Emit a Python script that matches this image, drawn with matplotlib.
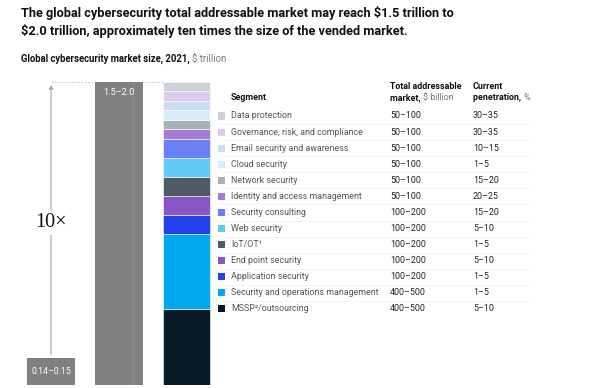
import matplotlib
matplotlib.use("Agg")
import matplotlib.pyplot as plt
from matplotlib.patches import Rectangle

plt.rcParams['font.family'] = ['Roboto', 'Liberation Sans', 'DejaVu Sans']

# ---------------- data ----------------
segments = ["Data protection", "Governance, risk, and compliance", "Email security and awareness",
            "Cloud security", "Network security", "Identity and access management",
            "Security consulting", "Web security", "IoT/OT¹", "End point security",
            "Application security", "Security and operations management", "MSSP²/outsourcing"]
tam_low = [50, 50, 50, 50, 50, 50, 100, 100, 100, 100, 100, 400, 400]
tam_high = [100, 100, 100, 100, 100, 100, 200, 200, 200, 200, 200, 500, 500]
pen_low = [30, 30, 10, 1, 15, 20, 15, 5, 1, 5, 1, 1, 5]
pen_high = [35, 35, 15, 5, 20, 25, 20, 10, 5, 10, 5, 5, 10]
colors = ["#cfd0d3", "#dccbef", "#cbdcf6", "#d8edfb", "#a9b0b6", "#a37cd3",
          "#6b7ff4", "#63c9f6", "#4f5a64", "#8a56c6", "#2142ec", "#00a8f0", "#061a28"]
vended_label = "0.14–0.15"
vended_value = 145          # $ billion
total_label = "1.5–2.0"
total_value = sum(tam_low)  # $ billion

W, H = 602, 388
fig = plt.figure(figsize=(W / 100, H / 100), dpi=100)
renderer = fig.canvas.get_renderer()

def fx(px):
    return px / W

def fy(py):
    return 1 - py / H

def fit(t, target_px):
    w = t.get_window_extent(renderer=renderer).width
    t.set_fontsize(t.get_fontsize() * target_px / w)

# ---------------- titles ----------------
t1 = fig.text(fx(21), fy(17.3), "The global cybersecurity total addressable market may reach $1.5 trillion to",
              fontsize=10.5, fontweight='bold', color='#111111', va='baseline', ha='left')
fit(t1, 436)
t1b = fig.text(fx(21), fy(34.8), "$2.0 trillion, approximately ten times the size of the vended market.",
               fontsize=t1.get_fontsize(), fontweight='bold', color='#111111', va='baseline', ha='left')
t = fig.text(fx(21), fy(59), "Global cybersecurity market size, 2021, ",
             fontsize=7.2, fontweight='bold', color='#111111', va='center', ha='left')
fit(t, 172)
bb = t.get_window_extent(renderer=renderer)
fig.text(bb.x1 / W, fy(59), "$ trillion", fontsize=t.get_fontsize(), color='#777777', va='center', ha='left')

# ---------------- bars ----------------
bar_top_px, bar_bot_px = 82, 385
ax = fig.add_axes([0, fy(bar_bot_px), fx(220), (bar_bot_px - bar_top_px) / H])
ax.set_xlim(0, 220)
ax.set_ylim(0, total_value)
ax.axis('off')

gray = "#808080"
ax.bar(51, vended_value, width=48, color=gray, zorder=2)
ax.text(51, vended_value / 2, vended_label, color='white', fontsize=6.3, ha='center', va='center', zorder=3)

ax.bar(119, total_value, width=48, color=gray, zorder=2)
ax.plot([133, 133], [0, total_value], color='#8c8c8c', lw=0.8, zorder=3)
ax.text(119, total_value * 0.966, total_label, color='white', fontsize=6.6, ha='center', va='center', zorder=3)

bottom = 0
for val, col in zip(tam_low[::-1], colors[::-1]):
    ax.bar(186.5, val, width=47, bottom=bottom, color=col, edgecolor='white', linewidth=0.4, zorder=2)
    bottom += val

# arrow and dashed connector
ax.plot([51, 163], [total_value, total_value], ls=(0, (2, 2)), color='#bbbbbb', lw=0.6, zorder=1)
ax.annotate('', xy=(51, total_value), xytext=(51, vended_value),
            arrowprops=dict(arrowstyle='-|>', color='#aaaaaa', lw=0.8, mutation_scale=6), zorder=1)
ax.text(51, (bar_bot_px - 223) / (bar_bot_px - bar_top_px) * total_value, "10×",
        family=['Liberation Serif', 'DejaVu Serif'], fontsize=14.5, color='#111111', ha='center', va='center',
        bbox=dict(facecolor='white', edgecolor='none', pad=2), zorder=2)

# ---------------- table ----------------
probe = fig.text(0, 0, "Security and operations management", fontsize=7)
fit(probe, 147)
fs = probe.get_fontsize()
probe.remove()

x_sq, x_seg, x_tam, x_pen = 218, 231, 390, 473
fig.text(fx(x_seg), fy(98), "Segment", fontsize=fs, fontweight='bold', color='#111111', va='center')
fig.text(fx(x_tam), fy(86.5), "Total addressable", fontsize=fs, fontweight='bold', color='#111111', va='center')
t2 = fig.text(fx(x_tam), fy(98), "market, ", fontsize=fs, fontweight='bold', color='#111111', va='center')
fig.text(fx(x_pen), fy(86.5), "Current", fontsize=fs, fontweight='bold', color='#111111', va='center')
t3 = fig.text(fx(x_pen), fy(98), "penetration, ", fontsize=fs, fontweight='bold', color='#111111', va='center')
fig.text(t2.get_window_extent(renderer=renderer).x1 / W, fy(98), "$ billion", fontsize=fs, color='#777777', va='center')
fig.text(t3.get_window_extent(renderer=renderer).x1 / W, fy(98), "%", fontsize=fs, color='#777777', va='center')

row0, dy = 116, 16.08
for i, (seg, lo, hi, plo, phi, col) in enumerate(zip(segments, tam_low, tam_high, pen_low, pen_high, colors)):
    y = row0 + i * dy
    fig.patches.append(Rectangle((fx(x_sq), fy(y + 3.5)), fx(7), 7 / H, transform=fig.transFigure,
                                 facecolor=col, edgecolor='none'))
    fig.text(fx(x_seg), fy(y), seg, fontsize=fs, color='#555555', va='center')
    fig.text(fx(x_tam), fy(y), f"{lo}–{hi}", fontsize=fs, color='#222222', va='center')
    fig.text(fx(x_pen), fy(y), f"{plo}–{phi}", fontsize=fs, color='#222222', va='center')
    if i < len(segments) - 1:
        fig.add_artist(plt.Line2D([fx(218), fx(528)], [fy(y + dy / 2)] * 2, color='#f0f0f0', lw=0.5))

fig.savefig("out.png", dpi=100)
